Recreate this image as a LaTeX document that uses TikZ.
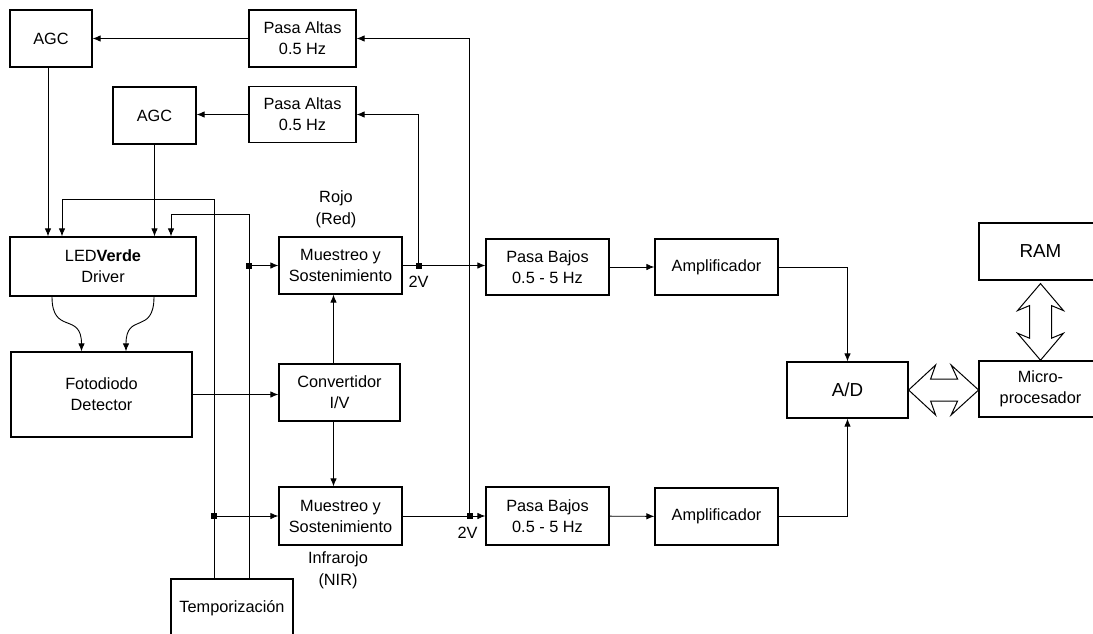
\documentclass[tikz,border=0pt]{standalone}
\usepackage{fontspec}
\setmainfont{Liberation Sans}
\usetikzlibrary{arrows.meta,positioning,calc}

\tikzset{
  bloque/.style={draw, line width=1.2pt, fill=white, align=center, inner sep=0pt,
    font=\fontsize{16.3}{21}\selectfont},
  grande/.style={font=\fontsize{18.8}{22}\selectfont},
  flecha/.style={-{Latex[length=8pt,width=6.5pt]}},
  nudo/.style={fill=black, inner sep=0pt, minimum size=6pt},
  etiqueta/.style={align=center, inner sep=0pt, font=\fontsize{16.3}{22}\selectfont},
  hueca/.style={draw, line width=1pt, fill=white, line join=miter}
}

\begin{document}
\begin{tikzpicture}[x=1pt,y=1pt,yscale=-1,xscale=1,line width=0.9pt]
\useasboundingbox (0,0) rectangle (1093,633);

% Bloques
\node[bloque, minimum width=82pt, minimum height=57pt] (agcA) at (51,38.5) {AGC};
\node[bloque, minimum width=107pt, minimum height=57pt] (altasA) at (302.5,38.5) {Pasa Altas\\0.5 Hz};
\node[bloque, minimum width=83pt, minimum height=57pt] (agcB) at (154.5,115.5) {AGC};
\node[bloque, minimum width=107pt, minimum height=56pt] (altasB) at (302.5,114.5) {Pasa Altas\\0.5 Hz};
\node[bloque, minimum width=186pt, minimum height=59pt] (led) at (103,266.5) {LED\textbf{Verde}\\Driver};
\node[bloque, minimum width=181pt, minimum height=85pt] (foto) at (101.5,394.5) {Fotodiodo\\Detector};
\node[bloque, minimum width=123pt, minimum height=57pt] (mueA) at (340.5,265.5) {Muestreo y\\Sostenimiento};
\node[bloque, minimum width=121pt, minimum height=57pt] (conv) at (339.5,392.5) {Convertidor\\I/V};
\node[bloque, minimum width=123pt, minimum height=58pt] (mueB) at (340.5,516) {Muestreo y\\Sostenimiento};
\node[bloque, minimum width=122pt, minimum height=58pt] (temp) at (232,608) {Temporización};
\node[bloque, minimum width=123pt, minimum height=56pt] (bajA) at (547.5,267) {Pasa Bajos\\0.5 - 5 Hz};
\node[bloque, minimum width=123pt, minimum height=56pt] (ampA) at (716.5,267) {Amplificador};
\node[bloque, minimum width=123pt, minimum height=58pt] (bajB) at (547.5,516) {Pasa Bajos\\0.5 - 5 Hz};
\node[bloque, minimum width=123pt, minimum height=57pt] (ampB) at (716.5,516.5) {Amplificador};
\node[bloque, grande, minimum width=121pt, minimum height=56pt] (ad) at (847.5,390) {A/D};
\node[bloque, grande, minimum width=123pt, minimum height=57pt] (ram) at (1040.5,251.5) {RAM};
\node[bloque, minimum width=123pt, minimum height=56pt] (micro) at (1040.5,389) {Micro-\\procesador};

% Textos
\node[etiqueta] (rojo) at (336,209) {Rojo\\(Red)};
\node[etiqueta] (nir) at (338,570) {Infrarojo\\(NIR)};

% AGC -> LED
\coordinate (a1) at ($(agcA.south)+(-3,0)$);
\draw[flecha] (a1) -- (a1 |- led.north);
\draw[flecha] (agcB.south) -- (agcB.south |- led.north);

% Pasa Altas -> AGC
\draw[flecha] (altasA.west) -- (altasA.west -| agcA.east);
\draw[flecha] (altasB.west) -- (altasB.west -| agcB.east);

% Temporizacion
\coordinate (tA) at ($(temp.north)+(-18,0)$);
\coordinate (tB) at ($(temp.north)+(17,0)$);
\draw[flecha] (tA) -- ++(0,-379) -| ($(led.north)+(-41,0)$);
\draw[flecha] (tB) -- ++(0,-364) -| ($(led.north)+(68,0)$);
\node[nudo] (jC) at (tB |- mueA.west) {};
\node[nudo] (jD) at (tA |- mueB.west) {};
\draw[flecha] (jC.center) -- (mueA.west);
\draw[flecha] (jD.center) -- (mueB.west);

% LED -> Fotodiodo
\draw[flecha] ($(led.south)+(-51,0)$) .. controls +(0,39) and +(0,-40) .. ($(foto.north)+(-20,0)$);
\draw[flecha] ($(led.south)+(51,0)$) .. controls +(0,39) and +(0,-40) .. ($(foto.north)+(24.5,0)$);

% Fotodiodo -> Convertidor -> Muestreo
\draw[flecha] (foto.east) -- (foto.east -| conv.west);
\coordinate (cN) at ($(conv.north)+(-6,0)$);
\coordinate (cS) at ($(conv.south)+(-6,0)$);
\draw[flecha] (cN) -- (cN |- mueA.south);
\draw[flecha] (cS) -- (cS |- mueB.north);

% Muestreo -> Pasa Bajos
\draw[flecha] (mueA.east) -- (mueA.east -| bajA.west);
\draw[flecha] (mueB.east) -- (mueB.east -| bajB.west);
\node[nudo] (jA) at ($(mueA.east)+(16,0)$) {};
\node[nudo] (jB) at ($(mueB.east)+(67,0)$) {};
\draw[flecha] (jA.center) |- (altasB.east);
\draw[flecha] (jB.center) |- (altasA.east);
\node[etiqueta, below=7pt of jA] (vA) {2V};
\node[etiqueta, below=7pt of jB, xshift=-2pt] (vB) {2V};

% Pasa Bajos -> Amplificador -> A/D
\draw[flecha] (bajA) -- (ampA);
\draw[flecha] (bajB) -- (ampB);
\draw[flecha] (ampA.east) -| (ad.north);
\draw[flecha] (ampB.east) -| (ad.south);

% Buses
\draw[hueca] (ad.east) -- ++(27,-25) -- ++(-5,14) -- ++(27,0) -- ++(-6.5,-14) -- ++(27.5,25)
  -- ++(-27.5,25) -- ++(6.5,-14) -- ++(-27,0) -- ++(5,14) -- cycle;
\draw[hueca] ($(ram.south)+(0,3)$) -- ++(-23,27) -- ++(12,-5) -- ++(0,32.6) -- ++(-12,-5) -- ++(23,27)
  -- ++(23,-27) -- ++(-12,5) -- ++(0,-32.6) -- ++(12,5) -- cycle;

\end{tikzpicture}
\end{document}
